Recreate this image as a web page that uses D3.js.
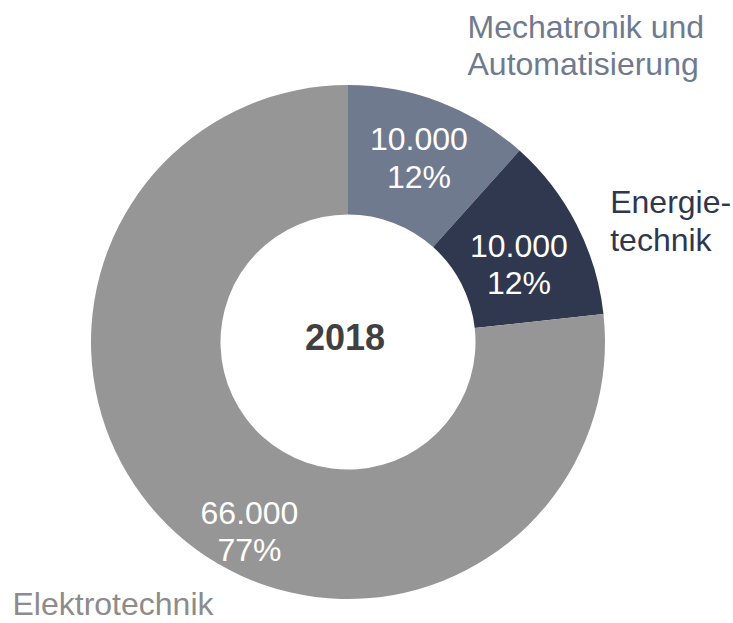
<!DOCTYPE html>
<html>
<head>
<meta charset="utf-8">
<script src="https://cdn.jsdelivr.net/npm/d3@7"></script>
<style>
  html, body { margin: 0; padding: 0; background: #fff; }
  svg { display: block; font-family: "Liberation Sans", Arial, sans-serif; }
</style>
</head>
<body>
<svg id="chart" width="733" height="623"></svg>
<script>
// ---- data ----
const categories = ["Mechatronik und Automatisierung", "Energietechnik", "Elektrotechnik"];
const categoryLines = [["Mechatronik und", "Automatisierung"], ["Energie-", "technik"], ["Elektrotechnik"]];
const values = [10000, 10000, 66000];
const centerTitle = "2018";

// ---- layout / style ----
const W = 733, H = 623;
const cx = 348, cy = 342;
const outerR = 257, innerR = 127.5;
const sliceColors = ["#6f7a8f", "#30384f", "#969696"];
const nameColors = ["#6f7a8f", "#2e3750", "#8c8c8c"];
// value-label anchors as polar offsets (deg clockwise from 12 o'clock, radius)
const valueLabelPolar = [[22.3, 187], [68.7, 183.5], [206.2, 223.2]];
// category name positions (text start x, first baseline)
const namePos = [[467.5, 37.7], [610.2, 213.3], [12.5, 615]];
const fontSize = 32, lineH = 37.5;

const svg = d3.select("#chart");
const g = svg.append("g").attr("transform", `translate(${cx},${cy})`);

const total = d3.sum(values);
const pie = d3.pie().sort(null).value(d => d)(values);
const arc = d3.arc().innerRadius(innerR).outerRadius(outerR);

g.selectAll("path.slice")
  .data(pie)
  .join("path")
  .attr("class", "slice")
  .attr("d", arc)
  .attr("fill", (d, i) => sliceColors[i]);

const fmt = v => d3.format(",")(v).replace(/,/g, ".");
const pct = v => Math.round(v / total * 100) + "%";

pie.forEach((d, i) => {
  const [a, r] = valueLabelPolar[i];
  const rad = a * Math.PI / 180;
  const x = Math.sin(rad) * r, y = -Math.cos(rad) * r;
  const t = g.append("text")
    .attr("text-anchor", "middle")
    .attr("fill", "#ffffff")
    .attr("font-size", fontSize);
  t.append("tspan").attr("x", x).attr("y", y - lineH / 2).text(fmt(d.data));
  t.append("tspan").attr("x", x).attr("y", y + lineH / 2).text(pct(d.data));
});

g.append("text")
  .attr("x", -3).attr("y", 350 - cy)
  .attr("text-anchor", "middle")
  .attr("font-size", 36)
  .attr("font-weight", "bold")
  .attr("fill", "#404040")
  .text(centerTitle);

categoryLines.forEach((lines, i) => {
  const t = svg.append("text")
    .attr("fill", nameColors[i])
    .attr("font-size", fontSize);
  lines.forEach((ln, j) => {
    t.append("tspan").attr("x", namePos[i][0]).attr("y", namePos[i][1] + j * lineH).text(ln);
  });
});
</script>
</body>
</html>
